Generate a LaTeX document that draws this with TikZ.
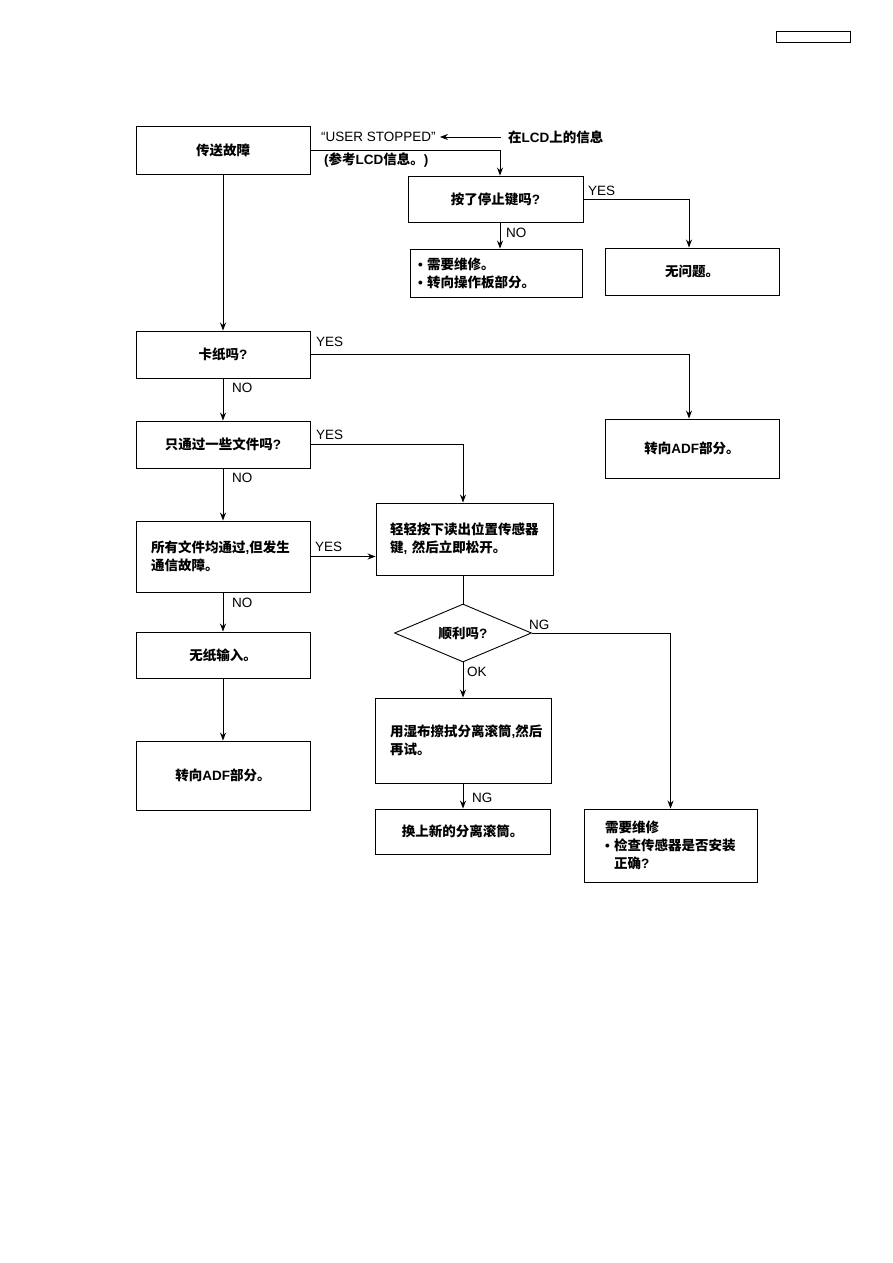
\documentclass[tikz,border=0pt]{standalone}
\usepackage{fontspec}
\usetikzlibrary{shapes.geometric,arrows.meta}

\setmainfont{Liberation Sans}
\newfontfamily\cjk{Noto Sans CJK SC}

% switch to the CJK font for Chinese characters
\XeTeXinterchartokenstate=1
\newXeTeXintercharclass\cjkchar
\newcount\cjkcode
\cjkcode="4E00
\loop \XeTeXcharclass\cjkcode=\cjkchar \advance\cjkcode by 1 \ifnum\cjkcode<"A000 \repeat
\cjkcode="3000
\loop \XeTeXcharclass\cjkcode=\cjkchar \advance\cjkcode by 1 \ifnum\cjkcode<"3040 \repeat
\cjkcode="FF00
\loop \XeTeXcharclass\cjkcode=\cjkchar \advance\cjkcode by 1 \ifnum\cjkcode<"FFF0 \repeat
\XeTeXinterchartoks 0 \cjkchar={\cjk}
\XeTeXinterchartoks 4095 \cjkchar={\cjk}
\XeTeXinterchartoks \cjkchar 0={\rmfamily}
\XeTeXinterchartoks \cjkchar 4095={\rmfamily}

\tikzset{
    box/.style={draw, line width=0.9pt, rectangle, inner sep=0pt,
        font=\fontsize{13.5}{18}\selectfont\bfseries},
    txtbox/.style={box, align=left, inner xsep=15pt},
    question/.style={draw, line width=0.9pt, diamond, aspect=2.4, inner sep=0pt,
        minimum width=137pt, minimum height=58pt,
        font=\fontsize{13.5}{18}\selectfont\bfseries},
    lbl/.style={anchor=west, inner sep=0pt, font=\fontsize{13.5}{16}\selectfont},
    note/.style={lbl, font=\fontsize{13.5}{16}\selectfont\bfseries},
    arr/.style={line width=0.9pt, -{Stealth[length=8pt,width=6pt]}},
    line/.style={line width=0.9pt}
}

\begin{document}
\begin{tikzpicture}[x=1pt, y=-1pt]

\useasboundingbox (0,0) rectangle (893,1263);

% page box
\draw[line width=1pt] (776,32) rectangle (850,43);

% left column
\node[box, minimum width=174pt, minimum height=48pt] (fail) at (223,150) {传送故障};
\node[box, minimum width=174pt, minimum height=47pt] (jam) at (223,354.5) {卡纸吗?};
\node[box, minimum width=174pt, minimum height=47pt] (some) at (223,444.5) {只通过一些文件吗?};
\node[txtbox, text width=144pt, minimum height=71pt] (all) at (223,556.5)
{所有文件均通过,但发生\\通信故障。};
\node[box, minimum width=174pt, minimum height=46pt] (nopaper) at (223,655) {无纸输入。};
\node[box, minimum width=174pt, minimum height=69pt] (adf2) at (223,775.5) {转向ADF部分。};

% message on the LCD
\node[lbl] (usr) at (321,137) {“USER STOPPED”};
\node[note] (lcdmsg) at (508,137) {在LCD上的信息};
\node[note] (ref) at (324,160) {(参考LCD信息。)};
\coordinate (j1) at (500,150);
\coordinate (j0) at (501,137);

% stop key
\node[box, minimum width=175pt, minimum height=46pt] (stop) at (495.5,199) {按了停止键吗?};
\node[box, align=left, text width=156pt, inner xsep=8pt, minimum height=48pt] (repair) at (496,273)
{• 需要维修。\\• 转向操作板部分。};
\node[box, minimum width=174pt, minimum height=47pt] (ok) at (692,271.5) {无问题。};
\node[box, minimum width=174pt, minimum height=59pt] (adf1) at (692,448.5) {转向ADF部分。};

% middle column
\node[txtbox, text width=149pt, inner xsep=14pt, minimum height=72pt] (press) at (464.5,539)
{轻轻按下读出位置传感器\\键, 然后立即松开。};
\node[question] (smooth) at (463,633) {顺利吗?};
\node[txtbox, text width=146pt, minimum height=85pt] (wipe) at (463,740.5)
{用湿布擦拭分离滚筒,然后\\再试。};
\node[box, minimum width=175pt, minimum height=45pt] (renew) at (462.5,831.5) {换上新的分离滚筒。};
\node[txtbox, text width=131pt, inner xsep=21pt, minimum height=73pt] (check) at (670.5,845.5)
{需要维修\\• 检查传感器是否安装\\\phantom{• }正确?};

% connectors
\draw[arr] (fail.south) -- (jam.north);
\draw[arr] (fail.east) -- (j1) -- (j1 |- stop.north);
\draw[arr] (j0) -- ([xshift=4pt]usr.east);
\draw[arr] (stop.east) -| ([xshift=-3pt]ok.north);
\draw[arr] (j1 |- stop.south) -- (j1 |- repair.north);
\draw[arr] (jam.east) -| ([xshift=-3pt]adf1.north);
\draw[arr] (jam.south) -- (some.north);
\draw[arr] (some.east) -| (smooth.north |- press.north);
\draw[arr] (some.south) -- (all.north);
\draw[arr] (all.east) -- (all.east -| press.west);
\draw[arr] (all.south) -- (nopaper.north);
\draw[arr] (nopaper.south) -- (adf2.north);
\draw[line] (smooth.north |- press.south) -- (smooth.north);
\draw[arr] (smooth.east) -| (check.north);
\draw[arr] (smooth.south) -- (wipe.north);
\draw[arr] (wipe.south) -- (wipe.south |- renew.north);

% branch labels
\node[lbl] at (588,191) {YES};
\node[lbl] at (506,233) {NO};
\node[lbl] at (316,342) {YES};
\node[lbl] at (232,388) {NO};
\node[lbl] at (316,435) {YES};
\node[lbl] at (232,478) {NO};
\node[lbl] at (315,547) {YES};
\node[lbl] at (232,603) {NO};
\node[lbl] at (529,625) {NG};
\node[lbl] at (467,672) {OK};
\node[lbl] at (472,798) {NG};

\end{tikzpicture}
\end{document}
